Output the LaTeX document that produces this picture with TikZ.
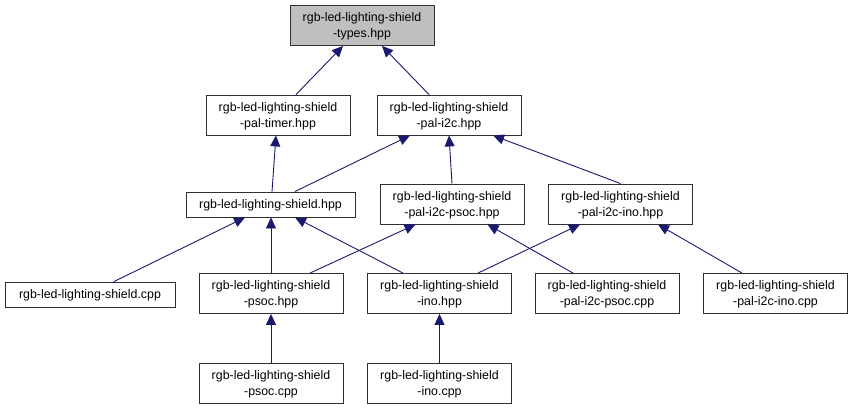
\documentclass[tikz,border=0pt]{standalone}
\usepackage{fontspec}
\setmainfont{Liberation Sans}
\usetikzlibrary{arrows.meta}
\definecolor{edgecol}{HTML}{191970}
\definecolor{boxline}{HTML}{303030}
\definecolor{topfill}{HTML}{BFBFBF}
\begin{document}
\begin{tikzpicture}[x=1pt,y=-1pt,
  box/.style={draw=boxline,line width=0.9pt,fill=white,minimum width=#1,inner sep=0pt,
    align=center,font=\fontsize{12.4}{16}\selectfont,text depth=0pt},
  box/.default=144pt,
  tall/.style={minimum height=40pt},
  flat/.style={minimum height=25pt},
  edge/.style={draw=edgecol,line width=0.9pt,{Triangle[length=11pt,width=10pt]}-}]
\useasboundingbox (0,0) rectangle (853,409);
\node[box,tall,fill=topfill] (types) at (362,25.5) {rgb-led-lighting-shield\\-types.hpp};
\node[box,tall] (timer) at (278,115) {rgb-led-lighting-shield\\-pal-timer.hpp};
\node[box,tall] (i2c) at (449,115) {rgb-led-lighting-shield\\-pal-i2c.hpp};
\node[box=169pt,flat] (shh) at (270.5,204.5) {rgb-led-lighting-shield.hpp};
\node[box,tall] (i2cpsoch) at (452,204) {rgb-led-lighting-shield\\-pal-i2c-psoc.hpp};
\node[box,tall] (i2cinoh) at (620.5,204) {rgb-led-lighting-shield\\-pal-i2c-ino.hpp};
\node[box=170pt,flat] (shc) at (90,294.5) {rgb-led-lighting-shield.cpp};
\node[box,tall] (psoch) at (271,293.5) {rgb-led-lighting-shield\\-psoc.hpp};
\node[box,tall] (inoh) at (439.5,293.5) {rgb-led-lighting-shield\\-ino.hpp};
\node[box,tall] (i2cpsocc) at (607,293.5) {rgb-led-lighting-shield\\-pal-i2c-psoc.cpp};
\node[box,tall] (i2cinoc) at (775.5,293.5) {rgb-led-lighting-shield\\-pal-i2c-ino.cpp};
\node[box,tall] (psocc) at (271,383) {rgb-led-lighting-shield\\-psoc.cpp};
\node[box,tall] (inoc) at (439.5,383) {rgb-led-lighting-shield\\-ino.cpp};
\draw[edge] ([xshift=-19pt]types.south) -- ([xshift=18pt]timer.north);
\draw[edge] ([xshift=20pt]types.south) -- ([xshift=-20pt]i2c.north);
\draw[edge] ([xshift=-2pt]timer.south) -- ([xshift=1.5pt]shh.north);
\draw[edge] ([xshift=-39pt]i2c.south) -- ([xshift=24.5pt]shh.north);
\draw[edge] ([xshift=0pt]i2c.south) -- ([xshift=0pt]i2cpsoch.north);
\draw[edge] ([xshift=44pt]i2c.south) -- ([xshift=0pt]i2cinoh.north);
\draw[edge] ([xshift=-25.5pt]shh.south) -- ([xshift=24pt]shc.north);
\draw[edge] ([xshift=0.5pt]shh.south) -- ([xshift=0pt]psoch.north);
\draw[edge] ([xshift=24.5pt]shh.south) -- ([xshift=-36.5pt]inoh.north);
\draw[edge] ([xshift=-36.5pt]i2cpsoch.south) -- ([xshift=39pt]psoch.north);
\draw[edge] ([xshift=-40.5pt]i2cinoh.south) -- ([xshift=38.5pt]inoh.north);
\draw[edge] ([xshift=35.5pt]i2cpsoch.south) -- ([xshift=-34pt]i2cpsocc.north);
\draw[edge] ([xshift=37.5pt]i2cinoh.south) -- ([xshift=-33.5pt]i2cinoc.north);
\draw[edge] (psoch.south) -- (psocc.north);
\draw[edge] (inoh.south) -- (inoc.north);
\end{tikzpicture}
\end{document}
